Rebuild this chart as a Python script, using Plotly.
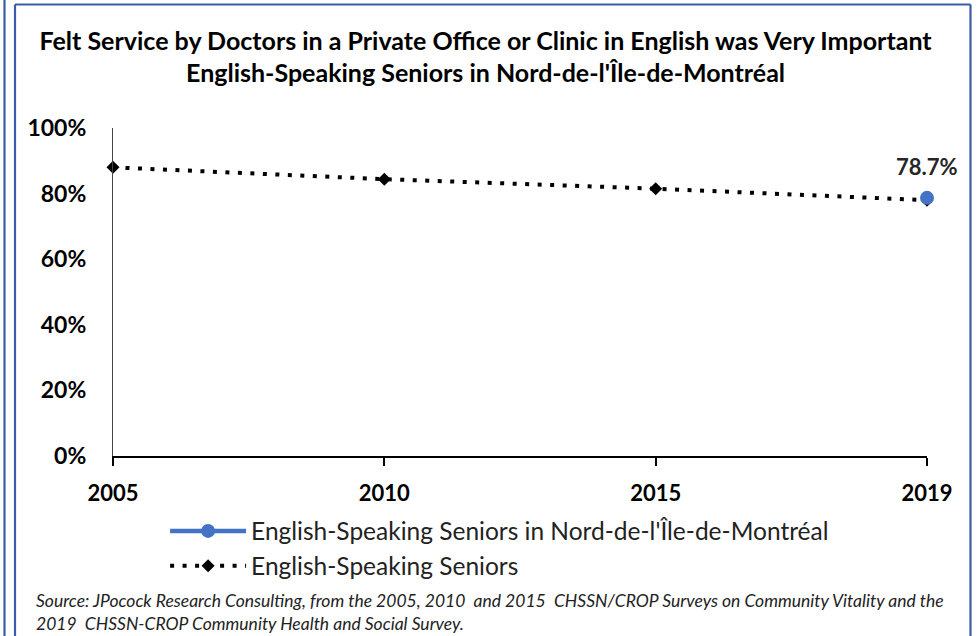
import plotly.graph_objects as go

years = ["2005", "2010", "2015", "2019"]
nord_years = ["2019"]
nord_values = [78.7]
seniors_values = [88.0, 84.4, 81.5, 78.0]
y_ticks = [0, 20, 40, 60, 80, 100]
y_tick_labels = ["0%", "20%", "40%", "60%", "80%", "100%"]

FONT = "Lato"
BLUE = "#4472C4"
BORDER = "#3A5DA8"

fig = go.Figure()
fig.add_trace(go.Scatter(
    x=years, y=seniors_values, name="English-Speaking Seniors",
    mode="lines+markers",
    line=dict(color="black", width=4, dash="4px,8.5px"),
    marker=dict(symbol="diamond", size=10, color="black"),
    cliponaxis=False,
))
fig.add_trace(go.Scatter(
    x=nord_years, y=nord_values, name="English-Speaking Seniors in Nord-de-l'Île-de-Montréal",
    mode="lines+markers",
    line=dict(color=BLUE, width=4.5),
    marker=dict(symbol="circle", size=14, color=BLUE),
    cliponaxis=False,
))
for xv, yv in zip(nord_years, nord_values):
    fig.add_annotation(
        x=years.index(xv), y=yv, xref="x", yref="y", text=f"<b>{yv}%</b>",
        showarrow=False, yshift=31,
        font=dict(family=FONT, size=22, color="#262626"),
    )

fig.update_layout(
    width=977, height=636,
    margin=dict(l=113, r=50, t=128, b=180),
    paper_bgcolor="white", plot_bgcolor="white",
    font=dict(family=FONT, color="black"),
    title=dict(
        text="<b>Felt Service by Doctors in a Private Office or Clinic in English was Very Important<br>English-Speaking Seniors in Nord-de-l'Île-de-Montréal</b>",
        x=0.497, xanchor="center", y=1 - 49.5 / 636, yanchor="middle",
        font=dict(family=FONT, size=25, color="black"),
    ),
    xaxis=dict(
        type="category", categoryorder="array", categoryarray=years,
        range=[0, 3], showgrid=False, zeroline=False,
        showline=True, linecolor="black", linewidth=1.5,
        ticks="outside", ticklen=8, tickcolor="black", tickwidth=1.5,
        tickfont=dict(family=FONT, size=22, color="black", weight="bold"),
        ticklabelstandoff=9,
    ),
    yaxis=dict(
        range=[0, 100], tickvals=y_ticks, ticktext=y_tick_labels,
        showgrid=False, zeroline=False,
        showline=True, linecolor="#444", linewidth=1.2,
        ticks="", tickfont=dict(family=FONT, size=23, color="black", weight="bold"),
        ticklabelstandoff=21,
    ),
    legend=dict(
        x=0.064, xanchor="left", y=-0.16, yanchor="top",
        font=dict(family=FONT, size=24.5, color="#222"),
        traceorder="reversed", tracegroupgap=0, itemwidth=76,
        bgcolor="rgba(0,0,0,0)",
    ),
    showlegend=True,
)

fig.add_annotation(
    xref="paper", yref="paper", x=(34 - 113) / 814, y=(456 - 588) / 328,
    xanchor="left", yanchor="top", align="left", showarrow=False,
    text="<i>Source: JPocock Research Consulting, from the 2005, 2010  and 2015  CHSSN/CROP Surveys on Community Vitality and the<br>2019  CHSSN-CROP Community Health and Social Survey.</i>",
    font=dict(family=FONT, size=17.5, color="#222"),
)

def px_x(p):
    return (p - 113) / 814

def px_y(p):
    return (456 - p) / 328

for x0, y0, x1, y1 in [
    (px_x(4.5), px_y(-5), px_x(4.5), px_y(650)),
    (px_x(15), px_y(4.5), px_x(15), px_y(650)),
    (px_x(15), px_y(4.5), px_x(970.5), px_y(4.5)),
    (px_x(970.5), px_y(4.5), px_x(970.5), px_y(650)),
]:
    fig.add_shape(type="line", xref="paper", yref="paper", x0=x0, y0=y0, x1=x1, y1=y1,
                  line=dict(color=BORDER, width=2.2))

fig.write_html("out.html", config={"displayModeBar": False},
               post_script="document.body.style.margin='0px';")
